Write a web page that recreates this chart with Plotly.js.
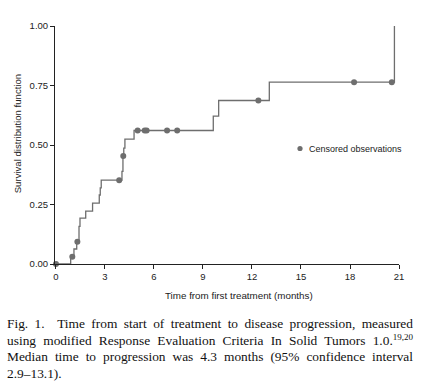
<!DOCTYPE html>
<html>
<head>
<meta charset="utf-8">
<script src="https://cdn.plot.ly/plotly-3.0.1.min.js"></script>
<style>
  html, body { margin: 0; padding: 0; background: #fff; }
  #wrap { position: relative; width: 422px; height: 390px; overflow: hidden; }
  #chart { position: absolute; left: 0; top: 0; width: 422px; height: 390px; }
  #caption { position: absolute; left: 7px; top: 316px; width: 406px;
    font-family: "Liberation Serif", "Times New Roman", serif; font-size: 13.4px;
    line-height: 16.5px; color: #111; }
  #caption .j { text-align: justify; text-align-last: justify; }
  #caption sup { font-size: 9px; line-height: 0; vertical-align: 5px; }
</style>
</head>
<body>
<div id="wrap">
  <div id="chart"></div>
  <div id="caption">
    <div class="j">Fig. 1.&nbsp; Time from start of treatment to disease progression, measured</div>
    <div class="j">using modified Response Evaluation Criteria In Solid Tumors 1.0.<sup>19,20</sup></div>
    <div class="j">Median time to progression was 4.3 months (95% confidence interval</div>
    <div>2.9–13.1).</div>
  </div>
</div>
<script>
// Step curve (time in months, survival distribution function)
var stepTimes = [0, 0.9, 1.1, 1.27, 1.41, 1.47, 1.82, 2.24, 2.65, 2.71, 2.77, 4.04, 4.1, 4.15, 4.22, 4.78, 9.63, 9.96, 13.06, 20.72];
var stepSurv  = [0, 0.03, 0.063, 0.094, 0.158, 0.193, 0.222, 0.256, 0.29, 0.32, 0.352, 0.389, 0.454, 0.487, 0.525, 0.561, 0.621, 0.687, 0.764, 1.0];
// Censored observations
var censTimes = [0, 1.0, 1.31, 3.87, 4.12, 5.0, 5.43, 5.55, 6.8, 7.42, 12.39, 18.25, 20.56];
var censSurv  = [0, 0.03, 0.094, 0.352, 0.454, 0.561, 0.561, 0.561, 0.561, 0.561, 0.687, 0.764, 0.764];
// Axis ticks
var xTicks = [0, 3, 6, 9, 12, 15, 18, 21];
var yTicks = [0, 0.25, 0.5, 0.75, 1.0];
var yTickLabels = ["0.00", "0.25", "0.50", "0.75", "1.00"];

var grey = "#6e6e6e";
var traces = [
  { x: stepTimes, y: stepSurv, mode: "lines", line: { shape: "hv", color: grey, width: 1.3 },
    showlegend: false, hoverinfo: "skip", cliponaxis: false },
  { x: censTimes, y: censSurv, mode: "markers", name: "Censored observations",
    marker: { color: grey, size: 6 }, showlegend: false, cliponaxis: false }
];

var L = 55, R = 23, T = 26, B = 126;
var W = 422 - L - R, H = 390 - T - B;
function px2x(px) { return (px - L) / W; }
function py2y(py) { return (390 - B - py) / H; }

var font = { family: "Liberation Sans, Arial, sans-serif", size: 9.5, color: "#222" };
var layout = {
  width: 422, height: 390,
  margin: { l: L, r: R, t: T, b: B, pad: 0 },
  paper_bgcolor: "#fff", plot_bgcolor: "#fff",
  font: font,
  showlegend: false,
  xaxis: {
    range: [-0.06, 21], tickvals: xTicks, ticktext: xTicks.map(String),
    showgrid: false, zeroline: false, showline: true, linecolor: "#222", linewidth: 1,
    ticks: "outside", ticklen: 4, tickcolor: "#222", tickwidth: 1,
    tickfont: font, fixedrange: true
  },
  yaxis: {
    range: [0, 1], tickvals: yTicks, ticktext: yTickLabels,
    showgrid: false, zeroline: false, showline: true, linecolor: "#222", linewidth: 1,
    ticks: "outside", ticklen: 4, tickcolor: "#222", tickwidth: 1,
    tickfont: font, fixedrange: true
  },
  shapes: [
    { type: "circle", xref: "paper", yref: "paper", xsizemode: "pixel", ysizemode: "pixel",
      xanchor: px2x(300), yanchor: py2y(148.5), x0: -2.6, x1: 2.6, y0: -2.6, y1: 2.6,
      fillcolor: grey, line: { width: 0 } }
  ],
  annotations: [
    { text: "Censored observations", xref: "paper", yref: "paper",
      x: px2x(307), y: py2y(148.5), xanchor: "left", yanchor: "middle", showarrow: false,
      font: { family: "Liberation Sans, Arial, sans-serif", size: 9, color: "#222" } },
    { text: "Time from first treatment (months)", xref: "paper", yref: "paper",
      x: px2x(239.5), y: py2y(295.5), xanchor: "center", yanchor: "middle", showarrow: false,
      font: { family: "Liberation Sans, Arial, sans-serif", size: 9.8, color: "#222" } },
    { text: "Survival distribution function", xref: "paper", yref: "paper", textangle: -90,
      x: px2x(17.3), y: py2y(134), xanchor: "center", yanchor: "middle", showarrow: false,
      font: { family: "Liberation Sans, Arial, sans-serif", size: 9.6, color: "#222" } }
  ]
};

Plotly.newPlot("chart", traces, layout, { staticPlot: true, displayModeBar: false });
</script>
</body>
</html>
